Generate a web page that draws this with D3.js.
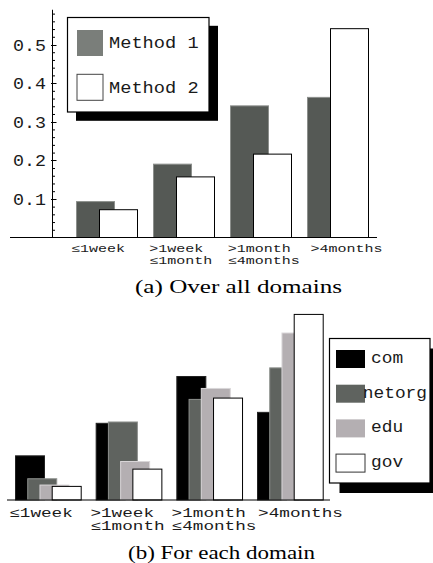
<!DOCTYPE html>
<html>
<head>
<meta charset="utf-8">
<script src="https://cdn.jsdelivr.net/npm/d3@7"></script>
<style>
  html, body { margin: 0; padding: 0; background: #fff; }
  svg { display: block; }
  .mono { font-family: "Liberation Mono", "DejaVu Sans Mono", monospace; }
  .serif { font-family: "Liberation Serif", "Times New Roman", serif; }
</style>
</head>
<body>
<svg id="chart" width="433" height="563"></svg>
<script>
// Age categories (multi-line tick labels)
const categories = [["≤1week"], [">1week", "≤1month"], [">1month", "≤4months"], [">4months"]];

// (a) Over all domains
const methods = ["Method 1", "Method 2"];
const method1 = [0.093, 0.190, 0.341, 0.363];
const method2 = [0.072, 0.157, 0.216, 0.541];
const yTicks = [0.1, 0.2, 0.3, 0.4, 0.5];
const yTickLabels = ["0.1", "0.2", "0.3", "0.4", "0.5"];

// (b) For each domain
const domains = ["com", "netorg", "edu", "gov"];
const com = [0.133, 0.231, 0.372, 0.264];
const netorg = [0.064, 0.235, 0.303, 0.398];
const edu = [0.045, 0.116, 0.336, 0.503];
const gov = [0.041, 0.093, 0.307, 0.559];

const captionA = "(a) Over all domains";
const captionB = "(b) For each domain";

const svg = d3.select("#chart");

// draw a monospace string stretched to a fixed per-character advance
function monoText(g, str, x, y, size, charW, anchor) {
  return g.append("text")
    .attr("class", "mono")
    .attr("x", x).attr("y", y)
    .attr("font-size", size)
    .attr("text-anchor", anchor || "start")
    .attr("textLength", str.length * charW)
    .attr("lengthAdjust", "spacingAndGlyphs")
    .attr("fill", "#1a1a1a")
    .text(str);
}

function categoryLabels(g, centerScale, y0, lineGap, size, charW) {
  categories.forEach((lines, i) => {
    const w = d3.max(lines, l => l.length) * charW;
    const left = centerScale(i) - w / 2;
    lines.forEach((l, k) => monoText(g, l, left, y0 + k * lineGap, size, charW));
  });
}

// ---------- Panel (a) ----------
{
  const g = svg.append("g");
  const y = d3.scaleLinear().domain([0, 0.5]).range([237.5, 44.5]);
  const yTop = 0.59;
  const groupX = d3.scaleLinear().domain([0, categories.length - 1]).range([76, 307]);
  const seriesX = d3.scaleLinear().domain([0, 1]).range([0, 23]);
  const labelX = d3.scaleLinear().domain([0, categories.length - 1]).range([98, 346.5]);
  const barW = 38;
  const axisX = 52.5;

  const series = [
    { name: methods[0], values: method1, fill: "#555955", stroke: "#8c8f8c", swatch: "#7a7e7a", swStroke: "none" },
    { name: methods[1], values: method2, fill: "#ffffff", stroke: "#000000", swatch: "#ffffff", swStroke: "#444" }
  ];

  series.forEach((s, si) => {
    g.append("g").selectAll("rect").data(s.values).join("rect")
      .attr("x", (d, i) => groupX(i) + seriesX(si) + 0.5)
      .attr("y", d => y(d))
      .attr("width", barW)
      .attr("height", d => y(0) - y(d))
      .attr("fill", s.fill)
      .attr("stroke", s.stroke)
      .attr("stroke-width", 1);
  });

  // minor ticks every 0.02
  const minor = d3.range(0.02, yTop, 0.02).filter(v => Math.abs(v * 10 - Math.round(v * 10)) > 1e-6);
  g.append("g").attr("transform", `translate(${axisX},0)`)
    .call(d3.axisRight(y).tickValues(minor).tickSize(2.5).tickFormat(""))
    .call(a => a.select(".domain").remove())
    .call(a => a.selectAll("line").attr("stroke", "#000"));
  // major ticks
  g.append("g").selectAll("line.major").data(yTicks).join("line")
    .attr("x1", axisX - 1.5).attr("x2", axisX + 4)
    .attr("y1", d => Math.round(y(d)) + 0.5).attr("y2", d => Math.round(y(d)) + 0.5)
    .attr("stroke", "#000");
  yTicks.forEach((t, i) => monoText(g, yTickLabels[i], 46, y(t) + 6, 17, 11, "end"));

  // axis lines
  g.append("line").attr("x1", axisX).attr("x2", axisX)
    .attr("y1", y(yTop)).attr("y2", y(0)).attr("stroke", "#000");
  g.append("line").attr("x1", 10).attr("x2", 377)
    .attr("y1", y(0)).attr("y2", y(0)).attr("stroke", "#000");

  categoryLabels(g, labelX, 252.3, 11.8, 10.5, 9);

  // legend
  const lg = g.append("g");
  lg.append("rect").attr("x", 76).attr("y", 25.8).attr("width", 142).attr("height", 95).attr("fill", "#000");
  lg.append("rect").attr("x", 67.5).attr("y", 17.5).attr("width", 141.5).attr("height", 94.5)
    .attr("fill", "#fff").attr("stroke", "#000").attr("stroke-width", 1.2);
  series.forEach((s, si) => {
    const top = 30 + si * 44.3;
    lg.append("rect").attr("x", 77).attr("y", top).attr("width", 26).attr("height", 26)
      .attr("fill", s.swatch).attr("stroke", s.swStroke);
    monoText(lg, s.name, 109, top + 18.3, 16, 11.2);
  });

  g.append("text").attr("class", "serif")
    .attr("x", 135).attr("y", 292.5).attr("font-size", 18)
    .attr("textLength", 207).attr("lengthAdjust", "spacingAndGlyphs")
    .text(captionA);
}

// ---------- Panel (b) ----------
{
  const g = svg.append("g");
  const y = d3.scaleLinear().domain([0, 1]).range([500, 168]);
  const groupX = d3.scaleLinear().domain([0, categories.length - 1]).range([15, 257]);
  const seriesX = d3.scaleLinear().domain([0, domains.length - 1]).range([0, 36.7]);
  const labelX = d3.scaleLinear().domain([0, categories.length - 1]).range([41, 300.5]);
  const barW = 29;

  const series = [
    { name: domains[0], values: com, fill: "#000000", stroke: "#222" },
    { name: domains[1], values: netorg, fill: "#5f635f", stroke: "#8e918e" },
    { name: domains[2], values: edu, fill: "#b4afb2", stroke: "#d9d6d8" },
    { name: domains[3], values: gov, fill: "#ffffff", stroke: "#000000" }
  ];

  series.forEach((s, si) => {
    g.append("g").selectAll("rect").data(s.values).join("rect")
      .attr("x", (d, i) => groupX(i) + seriesX(si) + 0.5)
      .attr("y", d => y(d))
      .attr("width", barW)
      .attr("height", d => y(0) - y(d))
      .attr("fill", s.fill)
      .attr("stroke", s.stroke)
      .attr("stroke-width", 1);
  });

  g.append("line").attr("x1", 7).attr("x2", 330)
    .attr("y1", y(0)).attr("y2", y(0)).attr("stroke", "#000");

  categoryLabels(g, labelX, 516.7, 13.3, 12.5, 10.6);

  // legend
  const lg = g.append("g");
  const bx = 329.5, by = 338.5, bw = 100.5, bh = 144.5;
  lg.append("rect").attr("x", bx + 10).attr("y", by + 10).attr("width", bw).attr("height", bh).attr("fill", "#000");
  lg.append("rect").attr("x", bx).attr("y", by).attr("width", bw).attr("height", bh)
    .attr("fill", "#fff").attr("stroke", "#000").attr("stroke-width", 1.2);
  series.forEach((s, si) => {
    const top = 350 + si * 34.7;
    lg.append("rect").attr("x", 336).attr("y", top).attr("width", 29).attr("height", 18)
      .attr("fill", s.fill).attr("stroke", si === 3 ? "#333" : "none");
    const len = s.name.length * 10.7;
    monoText(lg, s.name, Math.min(371, bx + bw - 3 - len), top + 13, 16, 10.7);
  });

  g.append("text").attr("class", "serif")
    .attr("x", 128).attr("y", 559).attr("font-size", 18)
    .attr("textLength", 187).attr("lengthAdjust", "spacingAndGlyphs")
    .text(captionB);
}
</script>
</body>
</html>
